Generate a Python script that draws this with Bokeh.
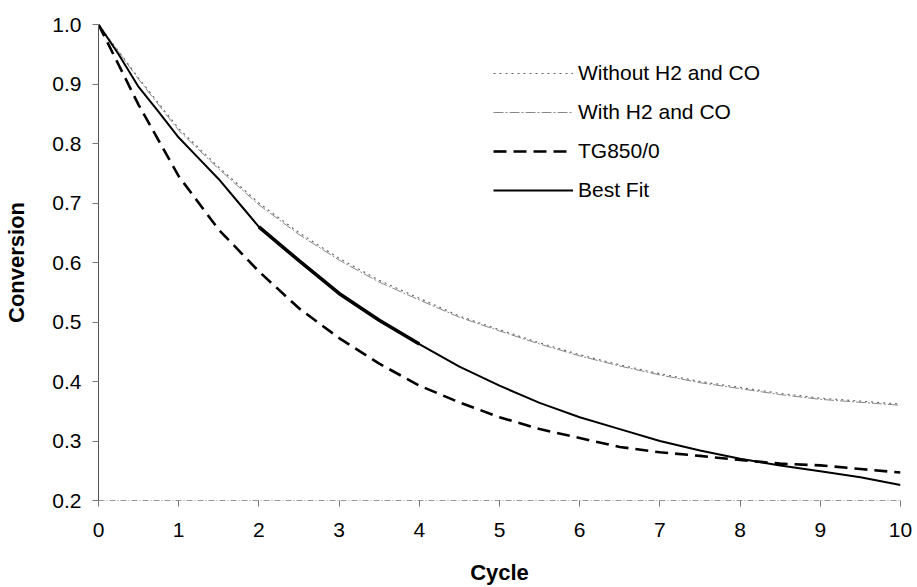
from bokeh.plotting import figure
from bokeh.models import Range1d, Legend, LegendItem, FixedTicker, CustomJSTickFormatter
from bokeh.embed import file_html
from bokeh.resources import INLINE

# ---- data ----
cycle_grey = [0, 0.5, 1, 1.5, 2, 2.5, 3, 3.5, 4, 4.5, 5, 5.5, 6, 6.5, 7, 7.5, 8, 8.5, 9, 9.5, 10]
without_h2_co = [1.0, 0.91, 0.825, 0.76, 0.70, 0.65, 0.607, 0.57, 0.54, 0.51, 0.487, 0.465,
                 0.445, 0.428, 0.413, 0.40, 0.39, 0.38, 0.372, 0.367, 0.362]
with_h2_co = [1.0, 0.908, 0.822, 0.757, 0.697, 0.647, 0.604, 0.567, 0.537, 0.508, 0.485, 0.463,
              0.443, 0.426, 0.411, 0.398, 0.388, 0.378, 0.370, 0.365, 0.360]

cycle_tg = [0, 0.5, 1, 1.5, 2, 2.5, 3, 3.5, 4, 4.5, 5, 5.5, 6, 6.5, 7, 7.5, 8, 8.5, 9, 9.5, 10]
tg850 = [1.0, 0.865, 0.745, 0.655, 0.585, 0.523, 0.473, 0.43, 0.393, 0.365, 0.34, 0.32,
         0.305, 0.29, 0.281, 0.275, 0.268, 0.262, 0.259, 0.253, 0.247]

cycle_fit = [0, 0.25, 0.5, 0.75, 1, 1.25, 1.5, 1.75, 2, 2.5, 3, 3.5, 4, 4.5, 5, 5.5, 6,
             6.5, 7, 7.5, 8, 8.5, 9, 9.5, 10]
best_fit = [1.0, 0.95, 0.895, 0.853, 0.81, 0.775, 0.74, 0.70, 0.66, 0.603, 0.548, 0.503,
            0.463, 0.425, 0.393, 0.364, 0.34, 0.32, 0.30, 0.284, 0.27, 0.259, 0.249, 0.239, 0.226]

x_ticks = [0, 1, 2, 3, 4, 5, 6, 7, 8, 9, 10]
y_ticks = [0.2, 0.3, 0.4, 0.5, 0.6, 0.7, 0.8, 0.9, 1.0]

FONT = "Liberation Sans"

p = figure(width=917, height=587, output_backend="svg", toolbar_location=None,
           x_range=Range1d(0, 10), y_range=Range1d(0.2, 1.0),
           min_border_left=98, min_border_right=17, min_border_top=24, min_border_bottom=87)
p.outline_line_color = None
p.xgrid.visible = False
p.ygrid.visible = False
p.background_fill_color = "white"
p.border_fill_color = "white"

r_without = p.line(cycle_grey, without_h2_co, line_color="#666666", line_width=1.2, line_dash="2 4")
r_with = p.line(cycle_grey, with_h2_co, line_color="#888888", line_width=1, line_dash="10 2 2 2")
r_tg = p.line(cycle_tg, tg850, line_color="black", line_width=2.6, line_dash="13 7")
r_fit = p.line(cycle_fit, best_fit, line_color="black", line_width=2)
# thicker overlapping stretch of the fitted curve (cycles 2-4)
seg = [i for i, c in enumerate(cycle_fit) if 2 <= c <= 4]
p.line([cycle_fit[i] for i in seg], [best_fit[i] for i in seg], line_color="black", line_width=3.6)

# axes
p.xaxis.ticker = FixedTicker(ticks=x_ticks)
p.yaxis.ticker = FixedTicker(ticks=y_ticks)
p.yaxis.formatter = CustomJSTickFormatter(code="return tick.toFixed(1);")
for ax in (p.xaxis, p.yaxis):
    ax.major_label_text_font = FONT
    ax.major_label_text_font_size = "21px"
    ax.major_label_text_color = "black"
    ax.axis_label_text_font = FONT
    ax.axis_label_text_font_size = "22px"
    ax.axis_label_text_font_style = "bold"
    ax.axis_label_text_color = "black"
    ax.minor_tick_line_color = None
    ax.major_tick_in = 0
    ax.major_tick_out = 6
    ax.major_tick_line_color = "#777777"
p.xaxis.axis_label = "Cycle"
p.yaxis.axis_label = "Conversion"
p.yaxis.axis_line_color = "#555555"
p.xaxis.axis_line_color = "#999999"
p.xaxis.axis_line_dash = "6 2 1 2"
p.xaxis.major_label_standoff = 16
p.xaxis.axis_label_standoff = 20
p.yaxis.major_label_standoff = 11
p.yaxis.axis_label_standoff = 20

legend = Legend(items=[
    LegendItem(label="Without H2 and CO", renderers=[r_without]),
    LegendItem(label="With H2 and CO", renderers=[r_with]),
    LegendItem(label="TG850/0", renderers=[r_tg]),
    LegendItem(label="Best Fit", renderers=[r_fit]),
], location=(395, 298))
legend.glyph_width = 80
legend.glyph_height = 24
legend.label_height = 24
legend.label_standoff = 5
legend.spacing = 15
legend.padding = 0
legend.margin = 0
legend.border_line_color = None
legend.background_fill_alpha = 0
legend.label_text_font = FONT
legend.label_text_font_size = "21px"
legend.label_text_color = "black"
p.add_layout(legend, "center")

open("out.html", "w").write(file_html(p, INLINE))
